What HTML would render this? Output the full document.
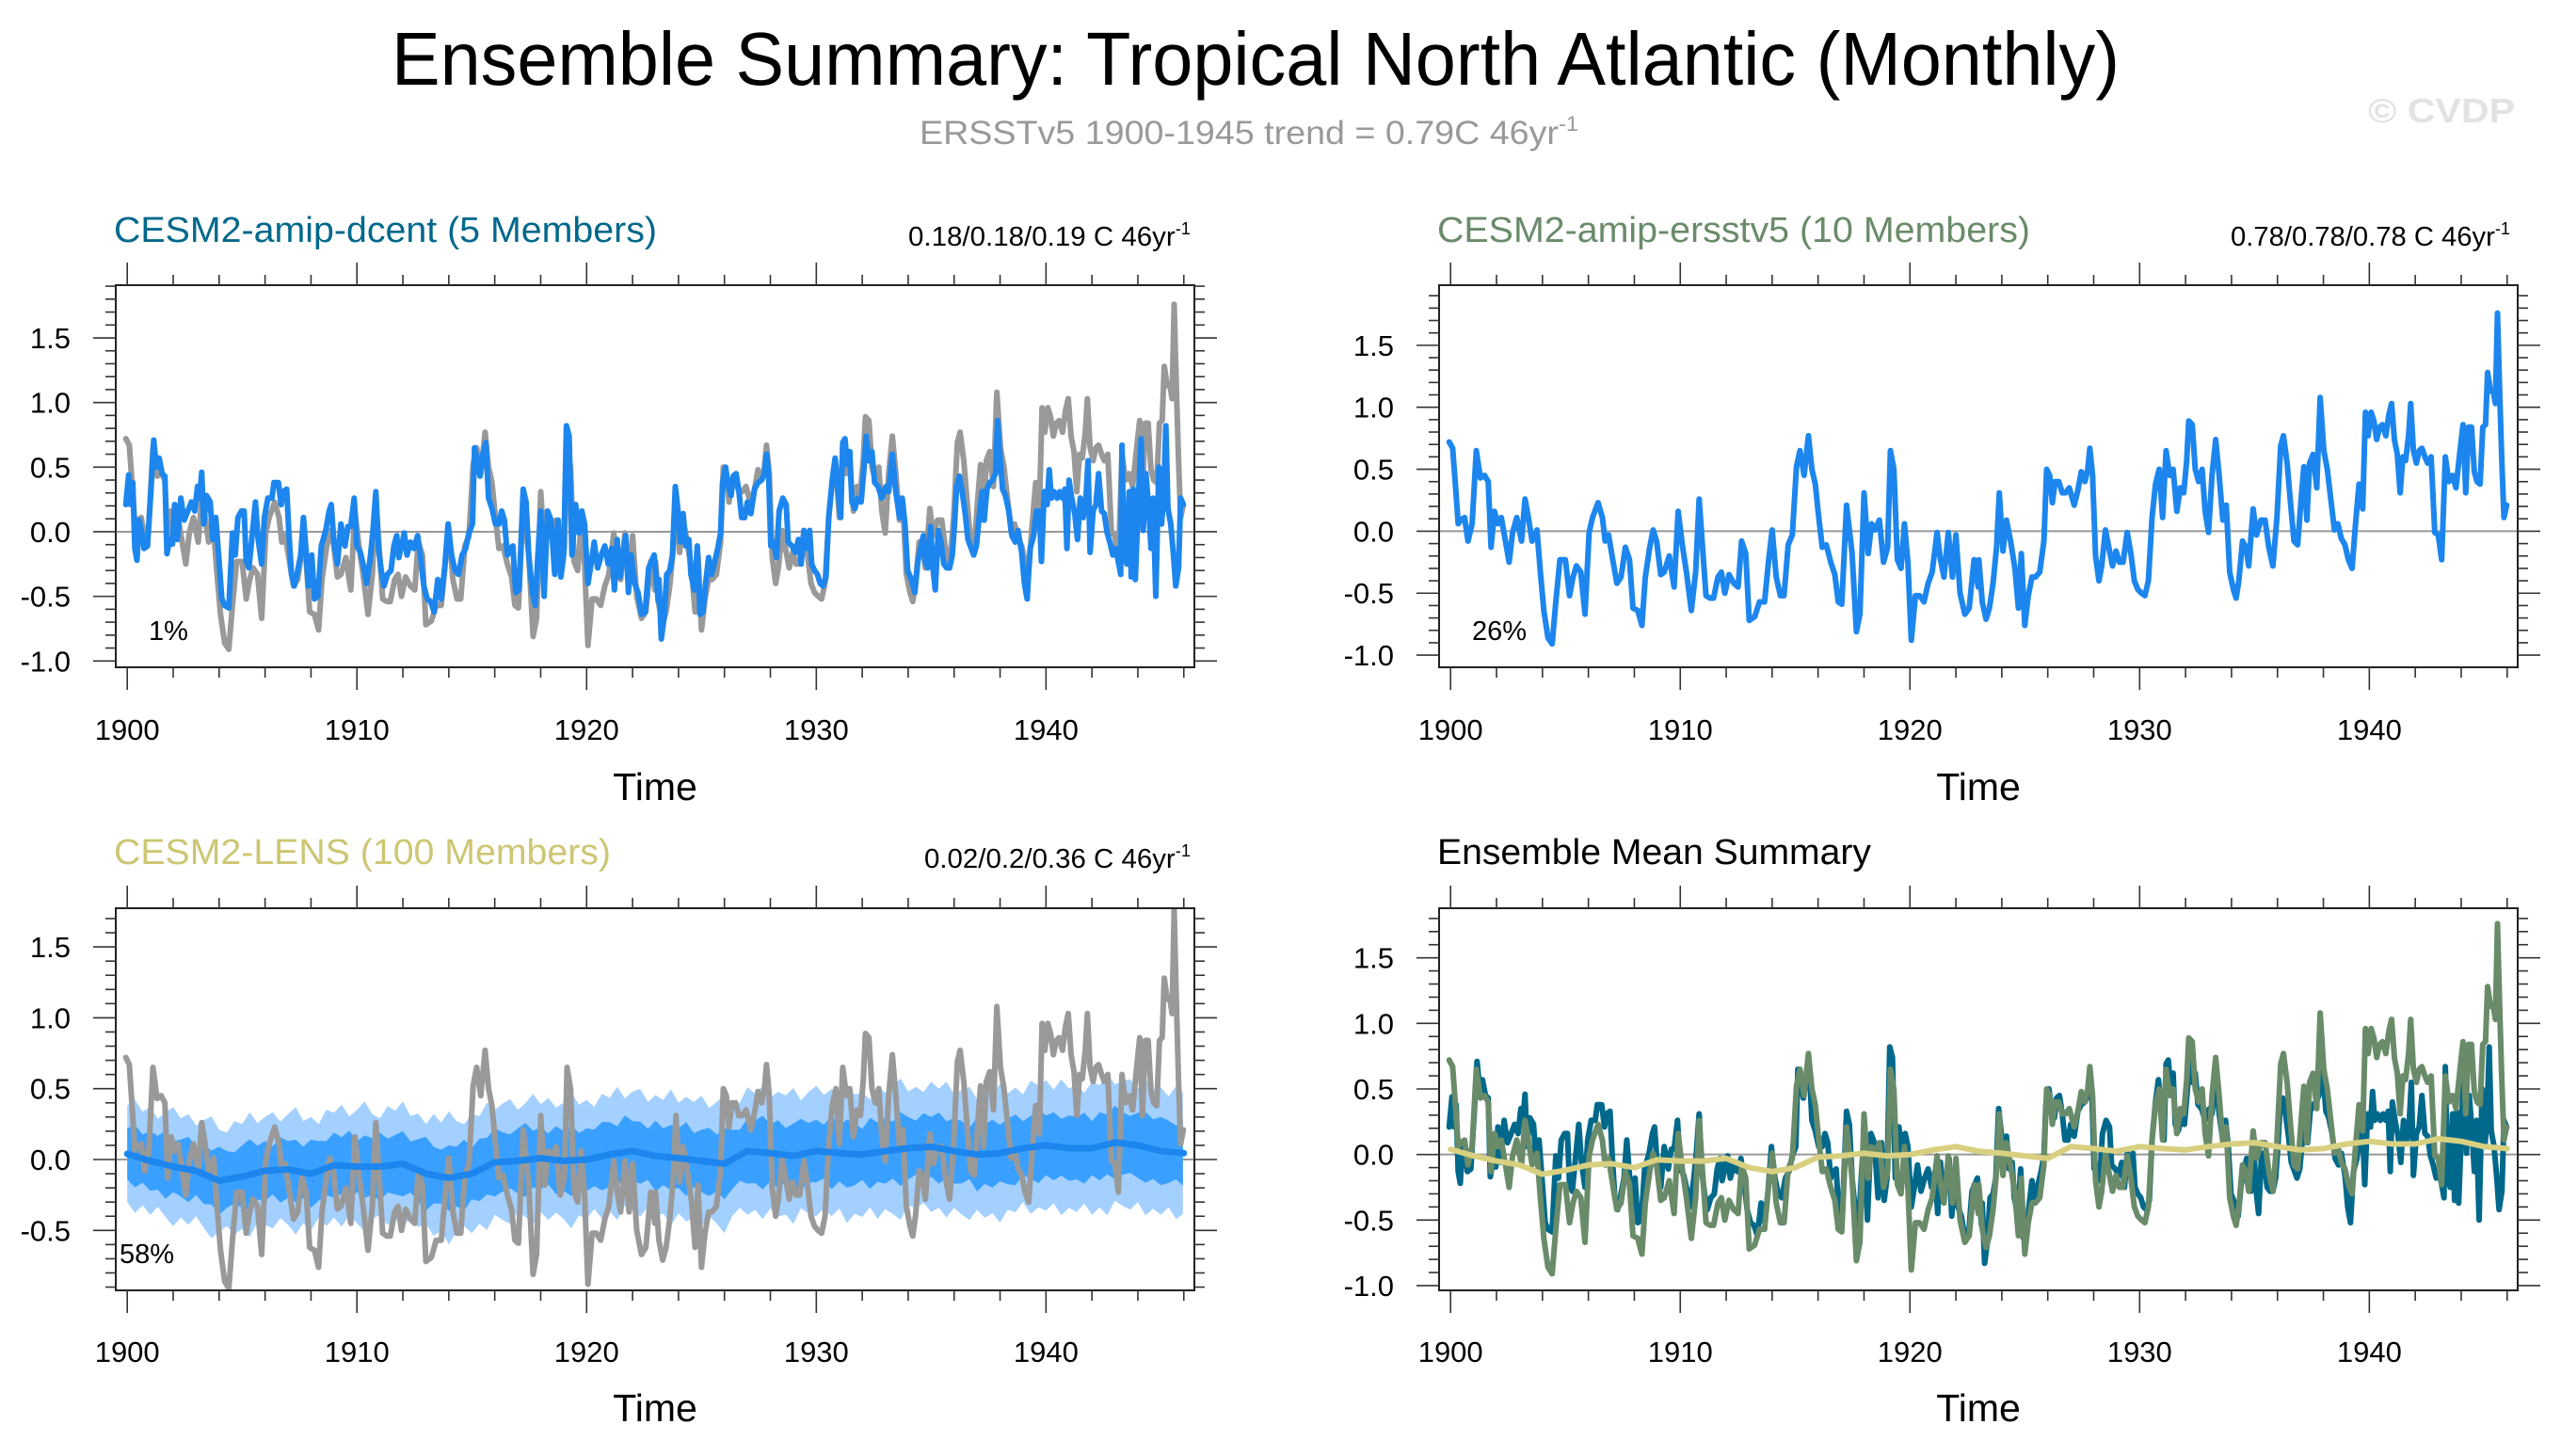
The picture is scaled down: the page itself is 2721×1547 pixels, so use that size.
<!DOCTYPE html>
<html><head><meta charset="utf-8"><style>
html,body{margin:0;padding:0;background:#fff}
svg{display:block;font-family:"Liberation Sans",Arial,sans-serif}
</style></head><body>
<svg id="chart" xmlns="http://www.w3.org/2000/svg" width="2721" height="1547" viewBox="0 0 2721 1547">
<rect width="2721" height="1547" fill="#fff"/>
<text x="1334" y="90" font-size="80" text-anchor="middle" textLength="1836" lengthAdjust="spacingAndGlyphs">Ensemble Summary: Tropical North Atlantic (Monthly)</text>
<text x="977" y="153" font-size="35" fill="#999" textLength="700" lengthAdjust="spacingAndGlyphs">ERSSTv5 1900-1945 trend = 0.79C 46yr<tspan font-size="22" dy="-14">-1</tspan></text>
<text x="2516" y="130" font-size="36" font-weight="bold" fill="#e2e2e2" textLength="156" lengthAdjust="spacingAndGlyphs">© CVDP</text>

<text x="121" y="257" font-size="38" fill="#00688b" textLength="577" lengthAdjust="spacingAndGlyphs">CESM2-amip-dcent (5 Members)</text>
<text x="965" y="261" font-size="29" textLength="300" lengthAdjust="spacingAndGlyphs">0.18/0.18/0.19 C 46yr<tspan font-size="18" dy="-12">-1</tspan></text>
<text x="1527" y="257" font-size="38" fill="#698b69" textLength="630" lengthAdjust="spacingAndGlyphs">CESM2-amip-ersstv5 (10 Members)</text>
<text x="2370" y="261" font-size="29" textLength="297" lengthAdjust="spacingAndGlyphs">0.78/0.78/0.78 C 46yr<tspan font-size="18" dy="-12">-1</tspan></text>
<text x="121" y="918" font-size="38" fill="#cdc673" textLength="528" lengthAdjust="spacingAndGlyphs">CESM2-LENS (100 Members)</text>
<text x="982" y="922" font-size="29" textLength="283" lengthAdjust="spacingAndGlyphs">0.02/0.2/0.36 C 46yr<tspan font-size="18" dy="-12">-1</tspan></text>
<text x="1527" y="918" font-size="38" textLength="461" lengthAdjust="spacingAndGlyphs">Ensemble Mean Summary</text>
<g id="plots"></g>
</svg>
<script>
// ---- data ----
const obsT=[1899.94,1900.09,1900.21,1900.33,1900.45,1900.61,1900.76,1900.94,1901.12,1901.30,1901.48,1901.64,1901.76,1901.91,1902.06,1902.21,1902.39,1902.55,1902.70,1902.88,1903.09,1903.24,1903.39,1903.55,1903.76,1903.91,1904.06,1904.24,1904.42,1904.58,1904.76,1905.00,1905.18,1905.33,1905.48,1905.67,1905.85,1906.03,1906.18,1906.42,1906.61,1906.73,1906.88,1907.06,1907.24,1907.42,1907.61,1907.79,1907.94,1908.15,1908.33,1908.48,1908.67,1908.82,1908.97,1909.15,1909.30,1909.52,1909.73,1909.91,1910.09,1910.27,1910.48,1910.67,1910.82,1910.97,1911.12,1911.30,1911.45,1911.64,1911.79,1911.94,1912.12,1912.33,1912.52,1912.67,1912.85,1913.00,1913.24,1913.45,1913.67,1913.85,1914.00,1914.18,1914.36,1914.52,1914.70,1914.88,1915.06,1915.21,1915.39,1915.58,1915.73,1915.88,1916.03,1916.18,1916.36,1916.55,1916.73,1916.88,1917.03,1917.24,1917.48,1917.67,1917.82,1918.00,1918.18,1918.33,1918.48,1918.67,1918.85,1919.03,1919.15,1919.30,1919.45,1919.61,1919.76,1919.91,1920.06,1920.24,1920.42,1920.61,1920.79,1920.97,1921.18,1921.33,1921.48,1921.67,1921.85,1922.00,1922.18,1922.39,1922.58,1922.79,1922.97,
1923.00,1923.15,1923.31,1923.46,1923.62,1923.77,1923.89,1924.05,1924.20,1924.38,1924.57,1924.72,1924.85,1925.00,1925.15,1925.31,1925.46,1925.65,1925.83,1925.95,1926.08,1926.20,1926.32,1926.48,1926.63,1926.78,1926.94,1927.15,1927.31,1927.46,1927.62,1927.74,1927.83,1927.95,1928.08,1928.23,1928.35,1928.51,1928.66,1928.82,1928.97,1929.12,1929.28,1929.46,1929.62,1929.77,1929.92,1930.08,1930.23,1930.38,1930.54,1930.69,1930.85,1931.00,1931.15,1931.31,1931.46,1931.62,1931.77,1931.92,1932.05,1932.14,1932.29,1932.42,1932.57,1932.72,1932.85,1933.00,1933.15,1933.31,1933.46,1933.62,1933.77,1933.92,1934.08,1934.20,1934.32,1934.48,1934.63,1934.75,1934.94,1935.09,1935.28,1935.46,1935.62,1935.80,1935.98,1936.14,1936.26,1936.42,1936.57,1936.72,1936.88,1937.03,1937.15,1937.28,1937.40,1937.55,1937.71,1937.86,1938.02,1938.17,1938.32,1938.48,1938.63,1938.78,1938.94,1939.09,1939.25,1939.40,1939.55,1939.71,1939.83,1939.95,1940.08,1940.20,1940.32,1940.45,1940.57,1940.72,1940.85,1940.97,1941.09,1941.22,1941.34,1941.46,1941.58,1941.71,1941.80,1941.92,1942.05,1942.17,1942.29,1942.42,1942.54,1942.69,1942.85,1943.00,1943.15,1943.31,1943.46,1943.62,1943.77,1943.95,1944.08,1944.20,1944.32,1944.45,1944.57,1944.69,1944.82,1944.94,1945.06,1945.15,1945.28,1945.40,1945.49,1945.58,1945.68,1945.77,1945.86,1945.98];
const obsV=[0.72,0.67,0.38,0.06,0.09,0.11,-0.08,0.06,0.65,0.43,0.45,0.40,-0.13,0.16,0.06,0.11,-0.08,-0.25,-0.01,0.11,-0.08,0.26,0.11,-0.08,0.01,-0.33,-0.64,-0.86,-0.91,-0.57,-0.23,-0.23,-0.52,-0.37,-0.28,-0.33,-0.67,-0.01,0.11,0.23,0.11,-0.08,-0.03,-0.23,-0.42,-0.37,-0.13,-0.23,-0.62,-0.64,-0.76,-0.37,-0.13,0.01,-0.08,-0.35,-0.33,-0.20,-0.45,0.16,-0.11,-0.33,-0.64,-0.33,0.26,-0.13,-0.52,-0.54,-0.54,-0.37,-0.33,-0.50,-0.35,-0.42,-0.45,-0.08,-0.18,-0.72,-0.69,-0.57,-0.57,-0.23,0.01,-0.37,-0.52,-0.52,-0.11,-0.03,0.52,0.65,0.45,0.77,0.50,0.38,0.11,-0.13,-0.11,-0.25,-0.35,-0.57,-0.59,0.21,-0.18,-0.81,-0.67,0.31,-0.18,0.06,0.01,0.09,-0.25,-0.13,0.65,0.50,-0.23,-0.30,0.06,-0.25,-0.88,-0.52,-0.52,-0.57,-0.42,-0.33,-0.01,-0.23,-0.37,-0.01,-0.37,-0.03,-0.50,-0.67,-0.62,-0.23,-0.45,
-0.23,-0.57,-0.71,-0.62,-0.42,-0.13,0.31,-0.16,0.09,-0.08,-0.30,-0.62,-0.18,-0.76,-0.52,-0.37,-0.37,-0.33,-0.08,0.50,0.45,0.23,0.40,0.40,0.31,0.31,0.35,0.21,0.33,0.48,0.40,0.50,0.67,0.45,-0.20,-0.40,-0.28,0.01,-0.13,-0.28,-0.16,-0.25,-0.25,-0.01,-0.18,-0.40,-0.47,-0.50,-0.52,-0.40,0.11,0.38,0.50,0.11,0.65,0.45,0.50,0.16,0.35,0.31,0.57,0.89,0.86,0.50,0.40,0.50,0.16,-0.01,0.45,0.74,0.45,0.09,0.21,-0.33,-0.47,-0.54,-0.40,-0.08,-0.13,-0.28,0.18,-0.03,0.09,0.09,-0.13,-0.28,0.11,0.69,0.77,0.55,0.23,-0.08,-0.11,0.26,0.52,0.09,0.55,0.62,0.35,1.08,0.65,0.50,0.26,0.01,0.06,-0.06,-0.11,-0.23,-0.30,0.06,0.38,0.18,0.96,0.77,0.96,0.89,0.74,0.84,0.86,0.77,0.94,1.03,0.74,0.62,0.31,0.60,0.57,0.77,1.03,0.65,0.55,0.65,0.67,0.60,0.55,0.60,-0.01,-0.03,-0.23,0.60,0.40,0.45,0.35,0.65,0.86,0.31,0.84,0.84,0.48,0.40,0.38,0.84,0.86,1.28,1.13,1.13,1.03,1.76,1.08,0.55,0.11,0.21];

const dcentT=[1899.94,1900.06,1900.15,1900.24,1900.33,1900.42,1900.52,1900.64,1900.73,1900.88,1901.03,1901.15,1901.27,1901.39,1901.52,1901.64,1901.73,1901.85,1901.97,1902.06,1902.18,1902.33,1902.48,1902.64,1902.79,1902.94,1903.06,1903.15,1903.24,1903.33,1903.45,1903.61,1903.73,1903.85,1904.00,1904.12,1904.24,1904.42,1904.58,1904.70,1904.82,1904.97,1905.09,1905.18,1905.30,1905.42,1905.58,1905.70,1905.85,1905.97,1906.12,1906.30,1906.39,1906.58,1906.70,1906.79,1906.94,1907.03,1907.15,1907.27,1907.39,1907.55,1907.67,1907.79,1907.88,1908.03,1908.15,1908.30,1908.45,1908.64,1908.79,1908.88,1909.00,1909.15,1909.30,1909.48,1909.61,1909.73,1909.88,1910.00,1910.15,1910.30,1910.42,1910.58,1910.70,1910.82,1910.94,1911.06,1911.18,1911.33,1911.48,1911.61,1911.73,1911.82,1911.94,1912.06,1912.18,1912.33,1912.48,1912.64,1912.76,1912.91,1913.06,1913.21,1913.36,1913.52,1913.67,1913.82,1913.97,1914.12,1914.27,1914.42,1914.58,1914.73,1914.88,1915.03,1915.12,1915.24,1915.36,1915.48,1915.61,1915.73,1915.88,1916.03,1916.18,1916.30,1916.42,1916.55,1916.67,1916.79,1916.91,1917.06,1917.24,1917.36,1917.48,1917.64,1917.76,1917.88,1918.00,1918.15,1918.30,1918.45,1918.61,1918.76,1918.88,1919.00,1919.12,1919.24,1919.36,1919.52,1919.67,1919.79,1919.91,1920.06,1920.21,1920.33,1920.48,1920.64,1920.79,1920.94,1921.09,1921.21,1921.33,1921.45,1921.58,1921.70,1921.82,1921.94,1922.09,1922.24,1922.39,1922.55,1922.70,1922.94,1923.12,
1923.15,1923.25,1923.37,1923.49,1923.62,1923.74,1923.86,1923.98,1924.08,1924.20,1924.32,1924.45,1924.54,1924.69,1924.82,1924.94,1925.06,1925.18,1925.31,1925.43,1925.55,1925.71,1925.83,1925.92,1926.05,1926.17,1926.29,1926.38,1926.51,1926.63,1926.75,1926.88,1927.00,1927.15,1927.31,1927.46,1927.62,1927.74,1927.83,1927.92,1928.02,1928.14,1928.26,1928.38,1928.54,1928.69,1928.78,1928.94,1929.09,1929.22,1929.34,1929.46,1929.58,1929.71,1929.80,1929.92,1930.05,1930.17,1930.29,1930.42,1930.54,1930.69,1930.82,1930.94,1931.06,1931.15,1931.25,1931.34,1931.46,1931.55,1931.68,1931.80,1931.95,1932.08,1932.17,1932.29,1932.42,1932.54,1932.69,1932.85,1933.03,1933.15,1933.31,1933.46,1933.62,1933.74,1933.86,1933.98,1934.14,1934.29,1934.42,1934.54,1934.66,1934.75,1934.85,1934.97,1935.09,1935.18,1935.31,1935.43,1935.55,1935.68,1935.80,1935.92,1936.02,1936.11,1936.23,1936.35,1936.48,1936.60,1936.75,1936.85,1936.97,1937.09,1937.22,1937.31,1937.43,1937.55,1937.68,1937.80,1937.89,1937.98,1938.11,1938.23,1938.38,1938.51,1938.66,1938.78,1938.94,1939.06,1939.18,1939.31,1939.46,1939.58,1939.71,1939.80,1939.92,1940.05,1940.14,1940.23,1940.35,1940.48,1940.60,1940.72,1940.82,1940.91,1941.00,1941.12,1941.25,1941.37,1941.49,1941.62,1941.74,1941.83,1941.92,1942.05,1942.17,1942.29,1942.42,1942.54,1942.66,1942.78,1942.91,1943.03,1943.15,1943.25,1943.31,1943.40,1943.52,1943.62,1943.71,1943.80,1943.89,1944.02,1944.14,1944.23,1944.35,1944.48,1944.57,1944.66,1944.78,1944.91,1945.03,1945.12,1945.22,1945.31,1945.43,1945.55,1945.65,1945.77,1945.86,1945.98];
const dcentV=[0.21,0.44,0.21,0.38,-0.13,-0.22,0.09,-0.01,-0.13,-0.11,0.31,0.71,0.50,0.57,0.45,0.43,-0.17,-0.06,-0.095,0.21,-0.06,0.26,0.09,0.16,0.23,0.16,0.35,0.26,0.46,0.06,0.28,0.23,-0.06,0.11,-0.23,-0.52,-0.57,-0.59,-0.01,-0.18,0.11,0.16,0.16,-0.23,-0.28,-0.06,0.23,-0.06,-0.25,0.11,0.26,0.26,0.38,0.38,0.21,0.31,0.33,0.01,-0.33,-0.42,-0.33,-0.18,0.11,-0.16,-0.42,-0.18,-0.52,-0.50,-0.11,0.01,0.16,0.21,-0.08,-0.25,0.06,-0.11,0.04,0.04,0.26,-0.11,-0.16,-0.28,-0.40,-0.20,0.01,0.31,-0.13,-0.30,-0.42,-0.33,-0.30,-0.11,-0.03,-0.20,-0.11,-0.01,-0.18,-0.08,-0.13,-0.03,-0.18,-0.42,-0.52,-0.54,-0.62,-0.37,-0.52,-0.28,0.06,-0.18,-0.30,-0.33,-0.18,-0.13,-0.01,0.06,0.65,0.55,0.43,0.60,0.69,0.26,0.18,0.06,0.06,0.16,0.09,-0.18,-0.13,-0.11,-0.47,-0.45,0.33,0.23,-0.18,-0.47,-0.57,-0.18,0.16,-0.50,0.16,0.09,-0.33,0.09,-0.35,-0.18,0.82,0.74,-0.18,0.21,-0.01,0.16,0.06,-0.40,-0.23,-0.08,-0.28,-0.18,-0.11,-0.25,-0.13,-0.45,-0.06,-0.35,-0.18,-0.03,-0.47,-0.18,-0.40,-0.47,-0.64,-0.62,-0.28,-0.18,-0.54,
-0.37,-0.83,-0.67,-0.33,-0.30,-0.18,0.35,0.16,-0.08,0.14,-0.11,-0.06,-0.33,-0.45,-0.11,-0.64,-0.62,-0.40,-0.20,-0.33,-0.25,-0.13,-0.01,0.38,0.50,0.35,0.28,0.43,0.45,0.31,0.11,0.11,0.23,0.14,0.33,0.38,0.40,0.45,0.60,0.45,-0.11,-0.08,-0.20,0.16,0.26,0.21,-0.08,-0.11,-0.16,-0.06,-0.25,0.01,-0.13,0.01,-0.25,-0.30,-0.33,-0.40,-0.42,-0.35,0.11,0.40,0.57,0.33,0.11,0.69,0.72,0.52,0.62,0.23,0.18,0.26,0.23,0.50,0.74,0.55,0.62,0.38,0.35,0.26,0.35,0.31,0.60,0.31,0.11,0.26,0.06,-0.30,-0.37,-0.47,-0.23,-0.13,-0.03,-0.23,-0.28,0.04,-0.30,-0.45,0.01,-0.08,-0.25,-0.28,-0.28,-0.18,0.06,0.35,0.43,0.31,0.14,-0.06,-0.13,-0.18,-0.11,0.11,0.31,0.09,0.33,0.38,0.40,0.45,0.86,0.62,0.33,0.28,0.16,-0.03,-0.08,0.01,-0.16,-0.40,-0.52,-0.13,-0.03,0.16,0.16,-0.23,0.31,0.21,0.48,0.26,0.31,0.26,0.31,0.26,0.33,-0.13,0.40,0.26,0.14,-0.06,0.26,0.11,0.26,0.55,-0.16,0.16,0.21,0.45,0.16,0.14,-0.01,-0.08,-0.18,-0.13,-0.23,-0.33,0.67,-0.18,-0.25,0.31,-0.35,0.33,-0.37,0.26,0.72,0.01,0.45,0.16,-0.13,0.26,-0.50,0.50,0.06,0.26,0.82,0.18,0.06,-0.18,-0.42,-0.28,0.26,0.21];

const lensYears=[1900,1901,1902,1903,1904,1905,1906,1907,1908,1909,1910,1911,1912,1913,1914,1915,1916,1917,1918,1919,1920,1921,1922,1923,1924,1925,1926,1927,1928,1929,1930,1931,1932,1933,1934,1935,1936,1937,1938,1939,1940,1941,1942,1943,1944,1945,1946];
const lensMean=[0.04,-0.01,-0.05,-0.08,-0.15,-0.12,-0.08,-0.07,-0.10,-0.04,-0.05,-0.05,-0.03,-0.10,-0.13,-0.10,-0.02,-0.01,0.01,-0.01,0.00,0.035,0.06,0.025,0.01,-0.01,-0.03,0.06,0.045,0.025,0.06,0.045,0.035,0.06,0.08,0.09,0.06,0.035,0.045,0.08,0.10,0.08,0.08,0.12,0.10,0.06,0.045];
const lightHalf=[0.34,0.40,0.33,0.38,0.31,0.37,0.42,0.35,0.39,0.32,0.38,0.43,0.36,0.33,0.40,0.37,0.44,0.35,0.38,0.41,0.34,0.39,0.45,0.36,0.40,0.33,0.41,0.37,0.43,0.35,0.40,0.46,0.37,0.34,0.42,0.38,0.44,0.36,0.40,0.35,0.43,0.38,0.47,0.39,0.36,0.42,0.38,0.45,0.37,0.41,0.44,0.36,0.40,0.46,0.38,0.43,0.37,0.41,0.48,0.39,0.42,0.36,0.44,0.40,0.47,0.38,0.42,0.45,0.37,0.43,0.40,0.48,0.39,0.44,0.41,0.46,0.38,0.43,0.49,0.40,0.37,0.45,0.41,0.47,0.39,0.44,0.42,0.48,0.38,0.43,0.46,0.40,0.45,0.39,0.49,0.42,0.44,0.38,0.47,0.41,0.45,0.50,0.40,0.43,0.39,0.46,0.42,0.48,0.40,0.44,0.47,0.39,0.45,0.42,0.49,0.41,0.44,0.38,0.47,0.43,0.46,0.40,0.48,0.42,0.45,0.39,0.47,0.43,0.50,0.41,0.44,0.46,0.40,0.48,0.42,0.45,0.39,0.47,0.43];
const darkHalf=[0.18,0.22,0.17,0.21,0.19,0.24,0.18,0.20,0.23,0.17,0.21,0.19,0.24,0.20,0.18,0.22,0.25,0.19,0.21,0.17,0.23,0.20,0.22,0.18,0.24,0.21,0.19,0.23,0.20,0.25,0.18,0.22,0.20,0.24,0.19,0.21,0.23,0.18,0.22,0.26,0.20,0.19,0.23,0.21,0.25,0.18,0.22,0.20,0.24,0.21,0.19,0.23,0.26,0.20,0.22,0.18,0.24,0.21,0.25,0.19,0.22,0.20,0.24,0.23,0.19,0.26,0.21,0.22,0.18,0.25,0.20,0.23,0.21,0.26,0.19,0.22,0.24,0.20,0.25,0.21,0.18,0.23,0.22,0.26,0.20,0.24,0.19,0.23,0.25,0.21,0.22,0.19,0.26,0.20,0.24,0.22,0.18,0.25,0.21,0.23,0.20,0.26,0.22,0.19,0.24,0.21,0.25,0.20,0.23,0.22,0.18,0.26,0.21,0.24,0.20,0.23,0.25,0.19,0.22,0.26,0.21,0.24,0.20,0.23,0.22,0.25,0.19,0.24,0.21,0.26,0.22,0.20,0.23,0.25,0.21,0.24,0.22,0.19,0.23];
const xTickYears=[1900,1910,1920,1930,1940];
const pctLabels=["1%","26%","58%",""];

// ---- layout ----
const NS="http://www.w3.org/2000/svg";
const root=document.getElementById('plots');
function el(tag,attrs,parent){const e=document.createElementNS(NS,tag);for(const k in attrs)e.setAttribute(k,attrs[k]);(parent||root).appendChild(e);return e;}
const panels=[
 {x0:123,x1:1269,y0:303,y1:709,vmin:-1.049,vmax:1.908,yt:[-1,-0.5,0,0.5,1,1.5],xlab:786,tlab:850,name:'panel1'},
 {x0:1529,x1:2675,y0:303,y1:709,vmin:-1.098,vmax:1.985,yt:[-1,-0.5,0,0.5,1,1.5],xlab:786,tlab:850,name:'panel2'},
 {x0:123,x1:1269,y0:965,y1:1371,vmin:-0.923,vmax:1.773,yt:[-0.5,0,0.5,1,1.5],xlab:1447,tlab:1510,name:'panel3'},
 {x0:1529,x1:2675,y0:965,y1:1371,vmin:-1.036,vmax:1.878,yt:[-1,-0.5,0,0.5,1,1.5],xlab:1447,tlab:1510,name:'panel4'}
];
const T0=1899.5,T1=1946.46;
panels.forEach((p,i)=>{
 p.sx=t=>p.x0+(t-T0)/(T1-T0)*(p.x1-p.x0);
 p.sy=v=>p.y1-(v-p.vmin)/(p.vmax-p.vmin)*(p.y1-p.y0);
 const g=el('g',{});
 
 
 p.g=g;
 const cp=el('clipPath',{id:'clip'+i},g);
 el('rect',{x:p.x0,y:p.y0,width:p.x1-p.x0,height:p.y1-p.y0},cp);
 p.plot=el('g',{'clip-path':'url(#clip'+i+')'},g);
});
function linePath(p,ts,vs){let d='';const n=Math.min(ts.length,vs.length);for(let i=0;i<n;i++){d+=(i?'L':'M')+p.sx(ts[i]).toFixed(1)+','+p.sy(vs[i]).toFixed(1);}return d;}
function drawLine(p,ts,vs,color,w,name){
 const e=el('path',{d:linePath(p,ts,vs),fill:'none',stroke:color,'stroke-width':w,'stroke-linejoin':'round','stroke-linecap':'round'},p.plot);
 
 
}
function interpMean(t){
 if(t<=lensYears[0])return lensMean[0];
 for(let i=1;i<lensYears.length;i++){if(t<=lensYears[i]){const f=(t-lensYears[i-1])/(lensYears[i]-lensYears[i-1]);return lensMean[i-1]+f*(lensMean[i]-lensMean[i-1]);}}
 return lensMean[lensMean.length-1];
}
function drawBand(p,half,color,name){
 const ts=[],hi=[],lo=[];
 for(let i=0;i<half.length;i++){const t=Math.min(1900+i/3,1945.96);const m=interpMean(t);ts.push(t);hi.push(m+half[i]);lo.push(m-half[i]);}
 let d='';
 ts.forEach((t,i)=>{d+=(i?'L':'M')+p.sx(t).toFixed(1)+','+p.sy(hi[i]).toFixed(1);});
 for(let i=ts.length-1;i>=0;i--)d+='L'+p.sx(ts[i]).toFixed(1)+','+p.sy(lo[i]).toFixed(1);
 const e=el('path',{d:d+'Z',fill:color,stroke:'none'},p.plot);
 
 
}
// series
const P=panels;
drawLine(P[0],obsT,obsV,'#999999',6,'obs-line');
drawLine(P[0],dcentT,dcentV,'#1c86ee',6,'dcent-mean-line');
drawLine(P[1],obsT,obsV,'#1c86ee',6,'ersstv5-mean-line');
drawBand(P[2],lightHalf,'#a3d0ff','lens-outer-spread');
drawBand(P[2],darkHalf,'#3aa0ff','lens-inner-spread');
drawLine(P[2],obsT,obsV,'#999999',6,'obs-line');
drawLine(P[2],lensYears,lensMean,'#1c86ee',7,'lens-mean-line');
drawLine(P[3],dcentT,dcentV,'#00688b',6,'dcent-mean-line');
drawLine(P[3],obsT,obsV,'#698b69',6,'ersstv5-mean-line');
drawLine(P[3],lensYears,lensMean,'#d8d080',6,'lens-mean-line');

// axes
panels.forEach((p,i)=>{
 const g=p.g;
 const z=el('line',{x1:p.x0,x2:p.x1,y1:p.sy(0),y2:p.sy(0),stroke:'#999','stroke-width':2},g);
 
 
 g.appendChild(p.plot);
 const box=el('rect',{x:p.x0,y:p.y0,width:p.x1-p.x0,height:p.y1-p.y0,fill:'none',stroke:'#222','stroke-width':2},g);
 
 
 // x ticks
 for(let yr=1900;yr<=1946;yr+=2){
  const x=p.sx(yr),L=(yr%10===0)?24:11;
  el('line',{x1:x,x2:x,y1:p.y1,y2:p.y1+L,stroke:'#333','stroke-width':1.6},g);
  el('line',{x1:x,x2:x,y1:p.y0,y2:p.y0-L,stroke:'#333','stroke-width':1.6},g);
 }
 xTickYears.forEach(yr=>{
  const t=el('text',{x:p.sx(yr),y:p.xlab,'font-size':31,'text-anchor':'middle'},g);
  t.textContent=yr;
  
  
 });
 const tt=el('text',{x:(p.x0+p.x1)/2,y:p.tlab,'font-size':41,'text-anchor':'middle'},g);
 tt.textContent='Time';
 
 
 // y ticks
 for(let k=-12;k<=20;k++){
  const v=k/10;if(v<p.vmin-1e-6||v>p.vmax+1e-6)continue;
  const y=p.sy(v),L=(k%5===0)?24:11;
  el('line',{x1:p.x0,x2:p.x0-L,y1:y,y2:y,stroke:'#333','stroke-width':1.6},g);
  el('line',{x1:p.x1,x2:p.x1+L,y1:y,y2:y,stroke:'#333','stroke-width':1.6},g);
 }
 p.yt.forEach(v=>{
  const t=el('text',{x:p.x0-48,y:p.sy(v)+11,'font-size':31,'text-anchor':'end'},g);
  t.textContent=v.toFixed(1);
  
  
 });
 if(pctLabels[i]){
  const t=el('text',{x:p.x0+(i===2?4:35),y:p.y1-29,'font-size':29},g);
  t.textContent=pctLabels[i];
  
  
 }
});
</script>
</body></html>
